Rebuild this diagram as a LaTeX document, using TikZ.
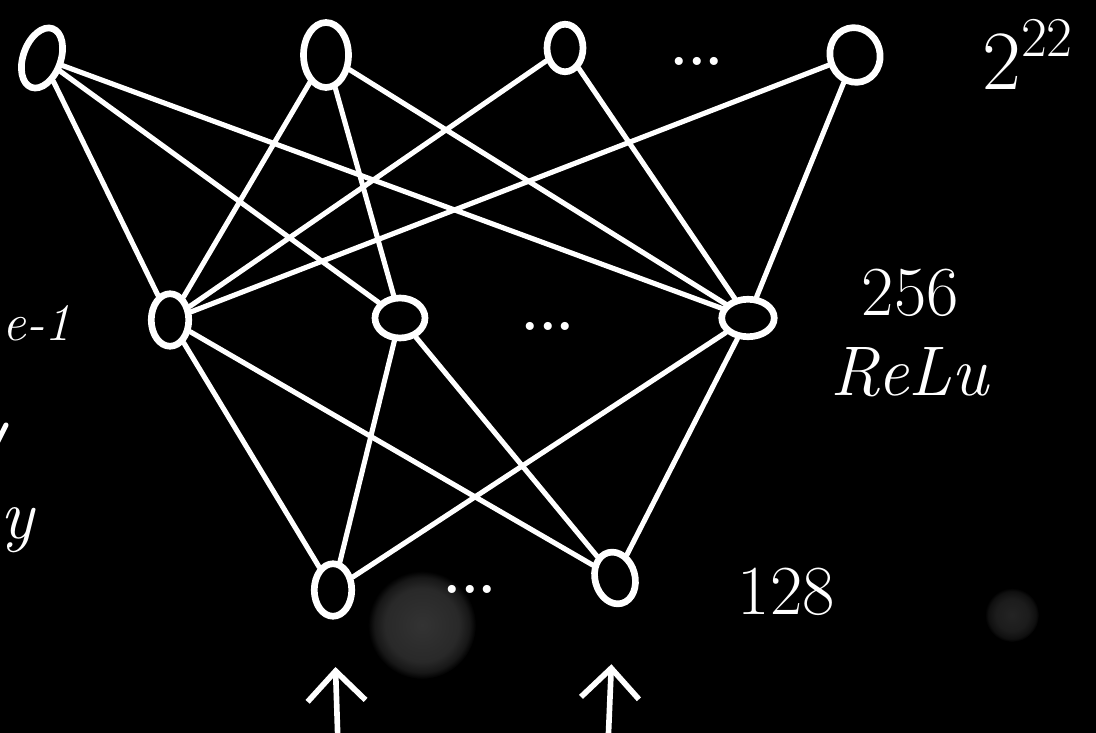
\documentclass[tikz,border=0pt]{standalone}
\usepackage{fontspec}
\usepackage{tikz}
\usetikzlibrary{shapes,arrows.meta,positioning,calc}

\pgfdeclareradialshading{lensglow}{\pgfpoint{0bp}{0bp}}{color(0bp)=(white!20!black); color(17bp)=(white!16!black); color(22bp)=(white!9!black); color(25bp)=(black); color(50bp)=(black)}
\pgfdeclareradialshading{lensglowsmall}{\pgfpoint{0bp}{0bp}}{color(0bp)=(white!14!black); color(15bp)=(white!11!black); color(22bp)=(white!6!black); color(25bp)=(black); color(50bp)=(black)}

\begin{document}
\begin{tikzpicture}[
    x=0.02cm, y=-0.02cm,
    unit/.style={draw=white, ellipse, line width=3.8pt, minimum width=0.75cm, minimum height=1.05cm, inner sep=0pt},
    link/.style={draw=white, line width=2.9pt, line cap=round},
    arrow/.style={-{Straight Barb[length=17pt, width=33pt, line width=3.2pt]}, draw=white, line width=3.2pt, line cap=round},
    dots/.style={text=white, font=\fontsize{32}{36}\selectfont\bfseries},
    lbl/.style={text=white, font=\fontsize{40}{45}\selectfont, align=center, inner sep=0pt}
]

    \useasboundingbox (0,0) rectangle (1096,733);
    \fill[black] (0,0) rectangle (1096,733);

    % lens glow
    \shade[shading=lensglow] (422,625) circle (54);
    \shade[shading=lensglowsmall] (1012,615) circle (27);

    % Output Layer
    \node[unit, minimum height=1.25cm, rotate=-20] (out1) at (42,58) {};
    \node[unit, minimum width=0.9cm, minimum height=1.3cm] (out2) at (326,55) {};
    \node[unit, minimum width=0.72cm, minimum height=0.95cm] (out3) at (565,48) {};
    \node[unit, minimum width=1.0cm, minimum height=1.1cm, rotate=15] (out4) at (855,55) {};
    \node[dots] (outdots) at (697,61) {...};
    \node[lbl, font=\fontsize{48}{52}\selectfont, anchor=base west] (outlbl) at (982,90) {2\raisebox{0.4em}{\fontsize{32}{34}\selectfont 22}};

    % Hidden Layer
    \node[unit] (hid1) at (170,320) {};
    \node[unit, minimum width=1.0cm, minimum height=0.8cm] (hid2) at (400,318) {};
    \node[unit, minimum width=1.05cm, minimum height=0.75cm] (hid3) at (748,318) {};
    \node[dots] (hiddots) at (548,326) {...};
    \node[lbl, right=1.05cm of hid3, yshift=-0.3cm] (hidlbl) {256\\\textit{ReLu}};

    % Input Layer
    \node[unit] (in1) at (333,590) {};
    \node[unit, minimum width=0.8cm, rotate=15] (in2) at (615,578) {};
    \node[dots] (indots) at (470,589) {...};
    \node[lbl, right=2.0cm of in2, yshift=-0.4cm] (inlbl) {128};

    % cut-off notes on the left
    \node[lbl, font=\fontsize{30}{34}\selectfont\itshape, anchor=base west] (prevlbl) at (2,340) {e-1};
    \node[lbl, font=\fontsize{40}{45}\selectfont\itshape, anchor=base west] (prevy) at (0,538) {y};
    \draw[link] (-4,445) -- (6,425);

    % Draw Connections
    \draw[link] (out1) -- (hid1);
    \draw[link] (out1) -- (hid2);
    \draw[link] (out1) -- (hid3);
    \draw[link] (out2) -- (hid1);
    \draw[link] (out2) -- (hid2);
    \draw[link] (out2) -- (hid3);
    \draw[link] (out3) -- (hid1);
    \draw[link] (out3) -- (hid3);
    \draw[link] (out4) -- (hid1);
    \draw[link] (out4) -- (hid3);

    \draw[link] (hid1) -- (in1);
    \draw[link] (hid1) -- (in2);
    \draw[link] (hid2) -- (in1);
    \draw[link] (hid2) -- (in2);
    \draw[link] (hid3) -- (in1);
    \draw[link] (hid3) -- (in2);

    % Inputs
    \coordinate (feed1) at (338,745);
    \coordinate (feed2) at (608,745);
    \draw[arrow, shorten >=0.95cm] (feed1) -- (in1);
    \draw[arrow, shorten >=1.15cm] (feed2) -- (in2);

\end{tikzpicture}
\end{document}
